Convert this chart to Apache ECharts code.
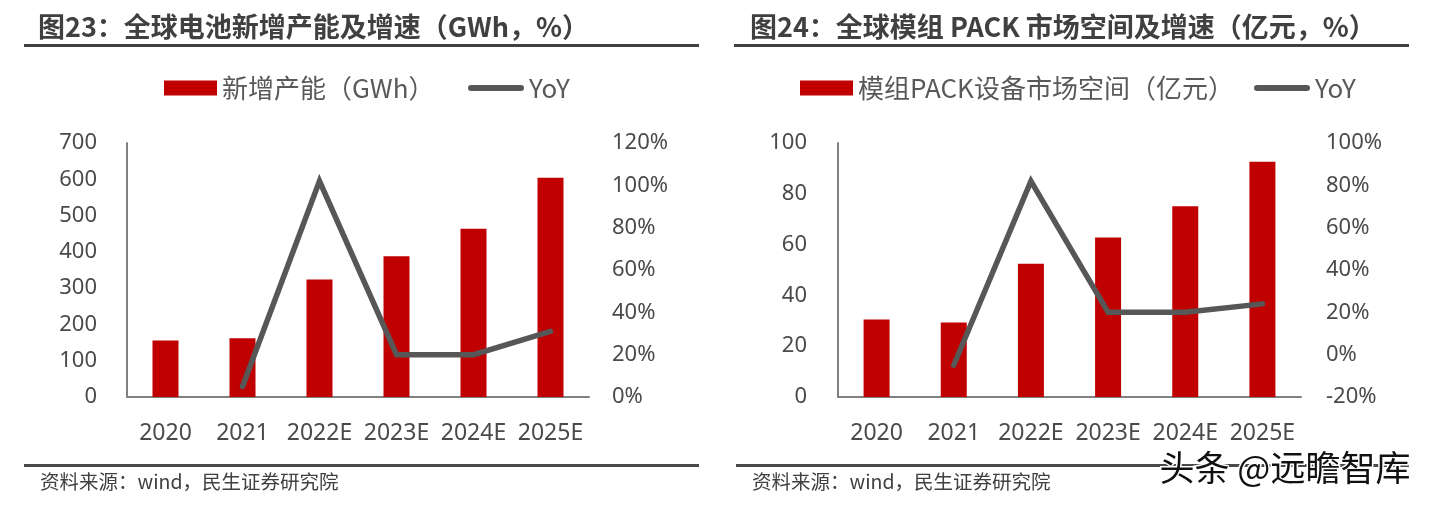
<!DOCTYPE html>
<html>
<head>
<meta charset="utf-8">
<script src="https://cdn.jsdelivr.net/npm/echarts@6/dist/echarts.min.js"></script>
<style>
html,body{margin:0;padding:0;background:#fff;}
#c{width:1438px;height:509px;}
</style>
</head>
<body>
<div id="c"></div>
<script>
// ---- data ----
const categories = ['2020', '2021', '2022E', '2023E', '2024E', '2025E'];
const capacityGWh = [156, 162, 324, 388, 464, 604];
const capacityYoY = [null, 5, 102, 20, 20, 31];
const packMarket = [30.5, 29.3, 52.5, 62.8, 75.1, 92.6];
const packYoY = [null, -5, 82, 20, 20, 24];
const capAxis = [0, 700, 100];      // min, max, interval
const capPctAxis = [0, 120, 20];
const packAxis = [0, 100, 20];
const packPctAxis = [-20, 100, 20];
const title1 = '图23：全球电池新增产能及增速（GWh，%）';
const title2 = '图24：全球模组 PACK 市场空间及增速（亿元，%）';
const barName1 = '新增产能（GWh）';
const barName2 = '模组PACK设备市场空间（亿元）';
const lineName = 'YoY';
const sourceText = '资料来源：wind，民生证券研究院';
const watermark = '头条 @远瞻智库';

// ---- styles ----
const RED = '#C00000';
const LINE = '#575757';
const AXIS = '#808080';
const TXT = '#4a4a4a';
const FONT = '"Noto Sans", "Noto Sans CJK SC", sans-serif';
const CJK = '"Noto Sans CJK SC", "Noto Sans", sans-serif';
const pill = 'path://M3,0 L53,0 A3,3 0 0 1 53,6 L3,6 A3,3 0 0 1 3,0 Z';

const chart = echarts.init(document.getElementById('c'), null, {renderer: 'canvas'});

function yAxisOf(r, gridIndex, pos, margin, pct) {
  return {
    type: 'value', gridIndex: gridIndex, position: pos,
    min: r[0], max: r[1], interval: r[2],
    axisLine: {show: pos === 'left', lineStyle: {color: AXIS, width: 2}},
    axisTick: {show: false},
    splitLine: {show: false},
    axisLabel: {
      margin: margin, color: TXT, fontSize: 22, fontFamily: FONT,
      formatter: pct ? '{value}%' : '{value}'
    }
  };
}
function xAxisOf(gridIndex) {
  return {
    type: 'category', gridIndex: gridIndex, data: categories,
    axisLine: {lineStyle: {color: AXIS, width: 2}},
    axisTick: {show: false},
    axisLabel: {margin: 25, color: TXT, fontSize: 23, fontFamily: FONT, interval: 0}
  };
}
function legendOf(name, left, icon, w, h) {
  return {
    left: left, top: 75, padding: 0,
    data: [{name: name, icon: icon}],
    itemWidth: w, itemHeight: h,
    selectedMode: false,
    textStyle: {color: '#595959', fontSize: 26, fontFamily: CJK}
  };
}

const option = {
  animation: false,
  backgroundColor: '#fff',
  grid: [
    {left: 127, top: 143, width: 462, height: 254},
    {left: 838, top: 143, width: 463, height: 254}
  ],
  xAxis: [xAxisOf(0), xAxisOf(1)],
  yAxis: [
    yAxisOf(capAxis, 0, 'left', 30, false),
    yAxisOf(capPctAxis, 0, 'right', 23, true),
    yAxisOf(packAxis, 1, 'left', 31, false),
    yAxisOf(packPctAxis, 1, 'right', 25, true)
  ],
  legend: [
    legendOf(barName1, 164, 'rect', 53, 15),
    legendOf(lineName, 468, pill, 56, 6),
    legendOf(barName2, 800, 'rect', 53, 15),
    legendOf(lineName, 1254, pill, 56, 6)
  ],
  series: [
    {name: barName1, type: 'bar', xAxisIndex: 0, yAxisIndex: 0, data: capacityGWh,
     barWidth: 26, itemStyle: {color: RED}},
    {name: lineName, type: 'line', xAxisIndex: 0, yAxisIndex: 1, data: capacityYoY,
     symbol: 'none', z: 5, itemStyle: {color: LINE},
     lineStyle: {color: LINE, width: 5.5, cap: 'round', join: 'miter'}},
    {name: barName2, type: 'bar', xAxisIndex: 1, yAxisIndex: 2, data: packMarket,
     barWidth: 26, itemStyle: {color: RED}},
    {name: lineName, type: 'line', xAxisIndex: 1, yAxisIndex: 3, data: packYoY,
     symbol: 'none', z: 5, itemStyle: {color: LINE},
     lineStyle: {color: LINE, width: 5.5, cap: 'round', join: 'miter'}}
  ],
  graphic: [
    {type: 'text', left: 38, top: 13, style: {text: title1, fill: '#404040',
      font: 'bold 27px ' + CJK}},
    {type: 'text', left: 750, top: 13, style: {text: title2, fill: '#404040',
      font: 'bold 27px ' + CJK}},
    {type: 'rect', shape: {x: 24, y: 44, width: 675, height: 3}, style: {fill: '#404040'}},
    {type: 'rect', shape: {x: 734, y: 44, width: 675, height: 3}, style: {fill: '#404040'}},
    {type: 'rect', shape: {x: 24, y: 464, width: 675, height: 3}, style: {fill: '#4a4a4a'}},
    {type: 'rect', shape: {x: 736, y: 464, width: 673, height: 3}, style: {fill: '#4a4a4a'}},
    {type: 'text', left: 40, top: 472, style: {text: sourceText, fill: '#404040',
      font: '19.5px ' + CJK}},
    {type: 'text', left: 752, top: 472, style: {text: sourceText, fill: '#404040',
      font: '19.5px ' + CJK}},
    {type: 'text', left: 1158, top: 449, z: 100, style: {text: watermark, fill: '#111',
      stroke: '#fff', lineWidth: 3, font: '35px ' + CJK}}
  ]
};
chart.setOption(option);
</script>
</body>
</html>
